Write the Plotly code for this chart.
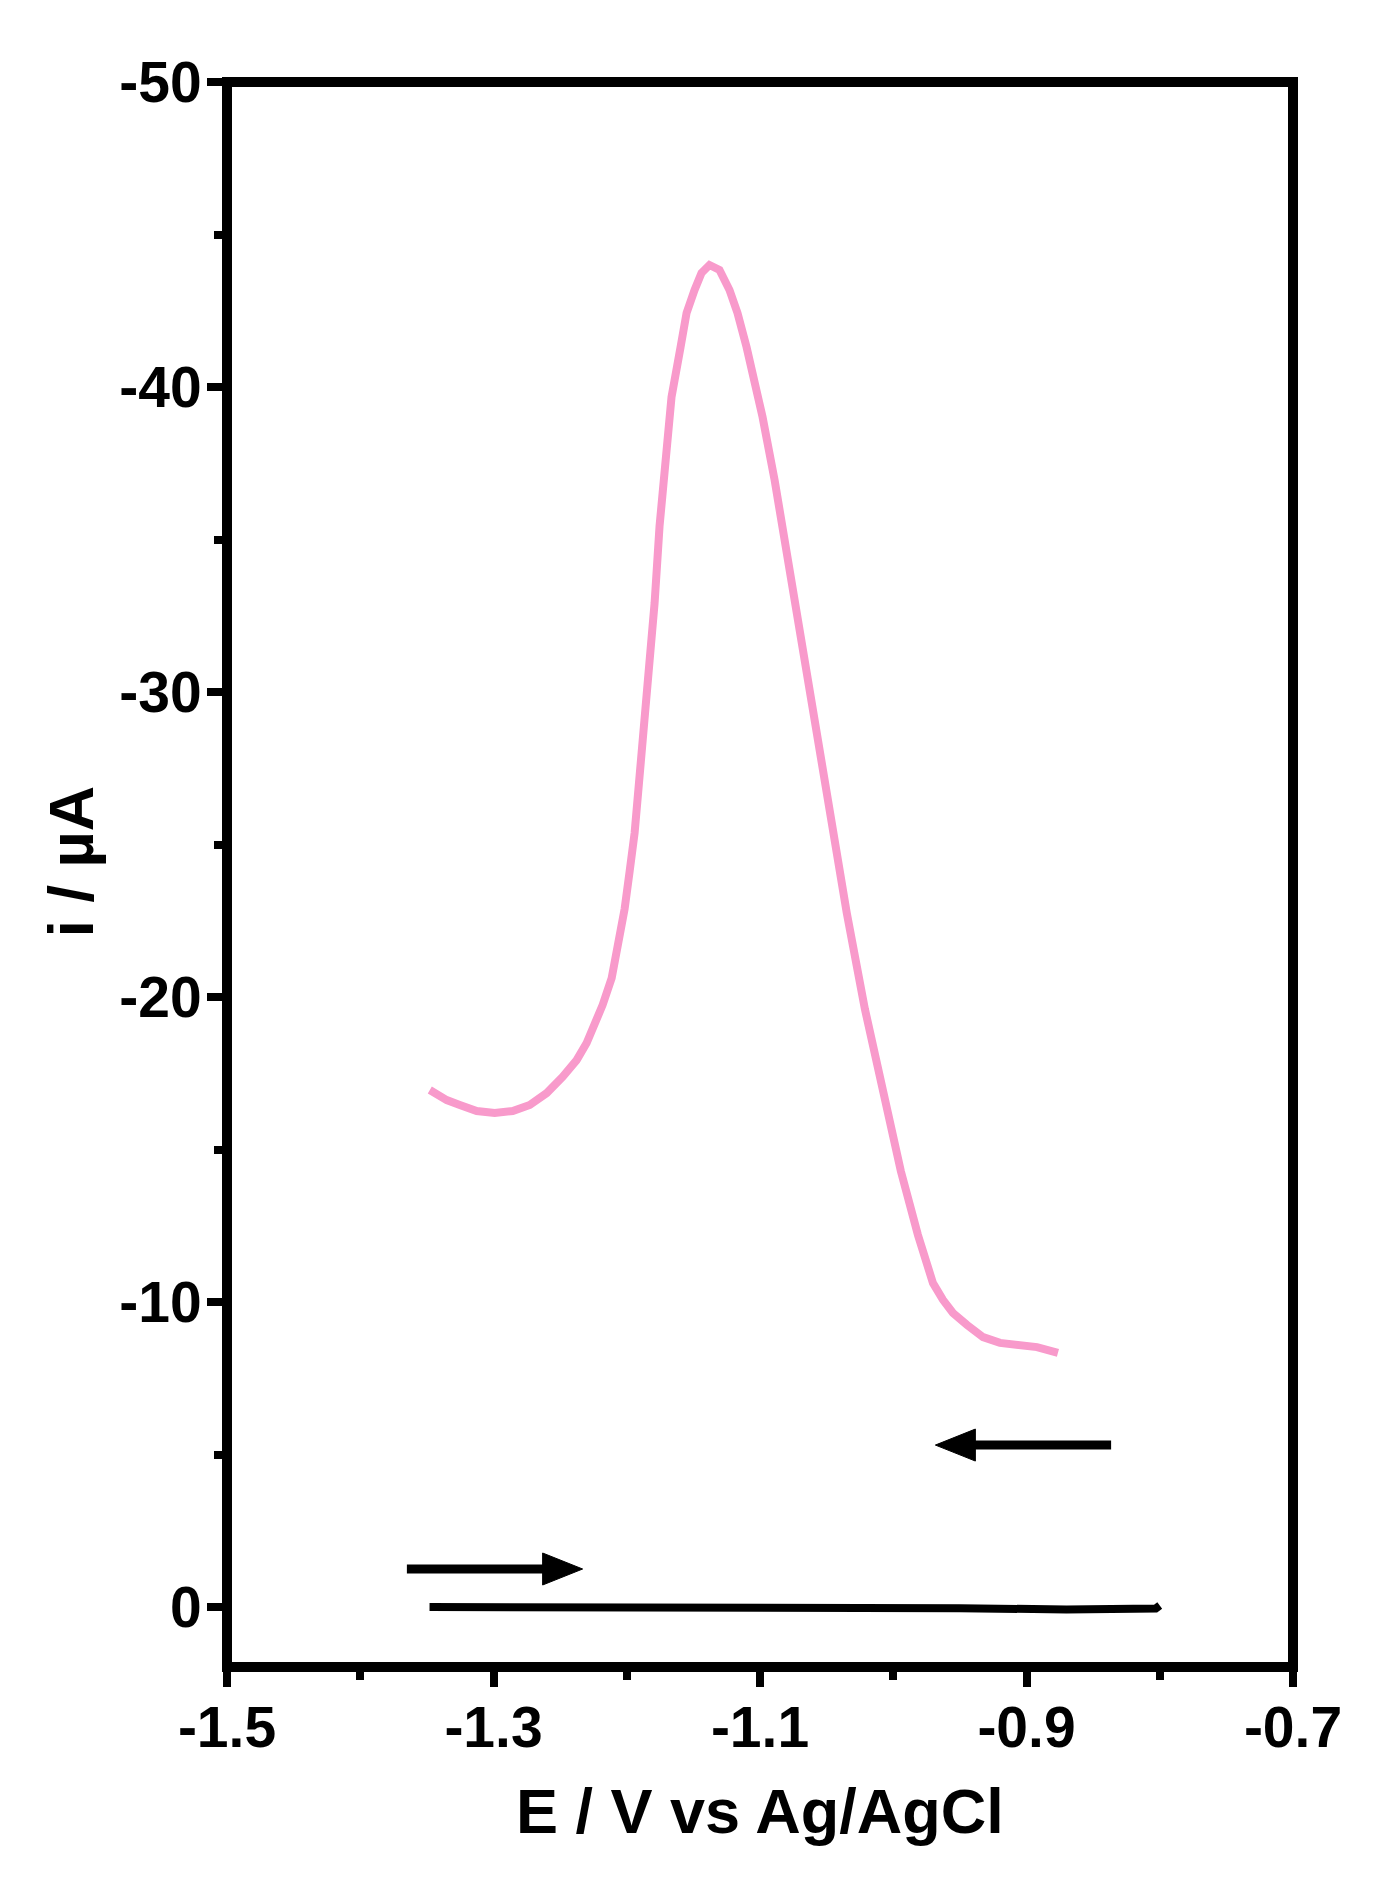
import plotly.graph_objects as go

# forward scan (pink): potential in V, current in uA
E_scan = [-1.3478, -1.3455, -1.3351, -1.3253, -1.3126, -1.2991, -1.2856, -1.2728, -1.2601,
          -1.2481, -1.2376, -1.2301, -1.2181, -1.2113, -1.2068, -1.2016, -1.1978, -1.1941,
          -1.1903, -1.1866, -1.1823, -1.1791, -1.1754, -1.1709, -1.1664, -1.1596, -1.1551,
          -1.1491, -1.1439, -1.1379, -1.1304, -1.1229, -1.1169, -1.1101, -1.1041, -1.0981,
          -1.0890, -1.0754, -1.0619, -1.0484, -1.0349, -1.0213, -1.0078, -0.9943, -0.9815,
          -0.9702, -0.9627, -0.9552, -0.9447, -0.9326, -0.9199, -0.9049, -0.8921, -0.8764]
i_scan = [-16.95, -16.89, -16.62, -16.46, -16.26, -16.20, -16.26, -16.46, -16.85,
          -17.38, -17.93, -18.49, -19.74, -20.62, -21.62, -22.89, -24.13, -25.38,
          -27.28, -29.15, -31.05, -32.92, -35.43, -37.41, -39.67, -41.31, -42.43,
          -43.18, -43.74, -44.00, -43.84, -43.18, -42.43, -41.31, -40.23, -39.02,
          -36.94, -33.39, -29.85, -26.30, -22.76, -19.61, -16.85, -14.29, -12.20,
          -10.62, -10.07, -9.64, -9.25, -8.85, -8.66, -8.59, -8.52, -8.33]

# blank (black) trace
E_blank = [-1.348, -1.2, -1.05, -0.95, -0.87, -0.815, -0.803, -0.80]
i_blank = [0.0, 0.0, 0.0, 0.04, 0.08, 0.10, 0.05, -0.05]

x_ticks = [-1.5, -1.3, -1.1, -0.9, -0.7]
x_ticktext = ["-1.5", "-1.3", "-1.1", "-0.9", "-0.7"]
x_minor = [-1.4, -1.2, -1.0, -0.8]
y_ticks = [-50, -40, -30, -20, -10, 0]
y_ticktext = ["-50", "-40", "-30", "-20", "-10", "0"]
y_minor = [-45, -35, -25, -15, -5]

FONT = "Liberation Sans, Arial, sans-serif"
PINK = "#F89ACB"

fig = go.Figure()
fig.add_trace(go.Scatter(x=E_scan, y=i_scan, mode="lines",
                         line=dict(color=PINK, width=8), showlegend=False))
fig.add_trace(go.Scatter(x=E_blank, y=i_blank, mode="lines",
                         line=dict(color="black", width=8), showlegend=False))

# scan direction arrows: (tail x, tip x, y) in data units
arrows = [(-1.365, -1.2331, -1.246), (-0.8365, -0.9684, -5.31)]
for x_tail, x_tip, y in arrows:
    sgn = 1 if x_tip > x_tail else -1
    fig.add_shape(type="line", x0=x_tail, x1=x_tip - sgn * 0.02, y0=y, y1=y,
                  line=dict(color="black", width=9))
    fig.add_shape(type="path", xsizemode="pixel", ysizemode="pixel",
                  xanchor=x_tip, yanchor=y,
                  path=f"M 0,0 L {-sgn * 40},16 L {-sgn * 40},-16 Z",
                  fillcolor="black", line=dict(color="black", width=1))

# frame box, centred on the plot edges so the end ticks sit on it
fig.add_shape(type="rect", xref="paper", yref="paper", x0=0, x1=1, y0=0, y1=1,
              line=dict(color="black", width=10), layer="above")

axis_common = dict(showline=False, ticks="outside", ticklen=19, tickwidth=8,
                   tickcolor="black", showgrid=False, zeroline=False,
                   tickfont=dict(family=FONT, size=57, color="black", weight="bold"))

fig.update_xaxes(range=[-1.5, -0.7], tickmode="array", tickvals=x_ticks, ticktext=x_ticktext,
                 ticklabelstandoff=-8,
                 minor=dict(tickmode="array", tickvals=x_minor, ticks="outside",
                            ticklen=12, tickwidth=8, tickcolor="black"),
                 **axis_common)
fig.update_yaxes(range=[1.967, -50], tickmode="array", tickvals=y_ticks, ticktext=y_ticktext,
                 ticklabelstandoff=-6,
                 minor=dict(tickmode="array", tickvals=y_minor, ticks="outside",
                            ticklen=12, tickwidth=8, tickcolor="black"),
                 **axis_common)

fig.add_annotation(text="E / V vs Ag/AgCl", xref="paper", yref="paper", x=0.5, y=0,
                   yshift=-144, showarrow=False, yanchor="middle",
                   font=dict(family=FONT, size=63, color="black", weight="bold"))
fig.add_annotation(text="i / µA", xref="paper", yref="paper", x=0, y=0.5,
                   xshift=-157, yshift=13, textangle=-90, showarrow=False, xanchor="center",
                   font=dict(family=FONT, size=63, color="black", weight="bold"))

# page body adds an 8px margin, so the figure is 8px smaller than the window
fig.update_layout(width=1378, height=1876, plot_bgcolor="white", paper_bgcolor="white",
                  margin=dict(l=219, r=93, t=74, b=217))

fig.write_html("out.html")
